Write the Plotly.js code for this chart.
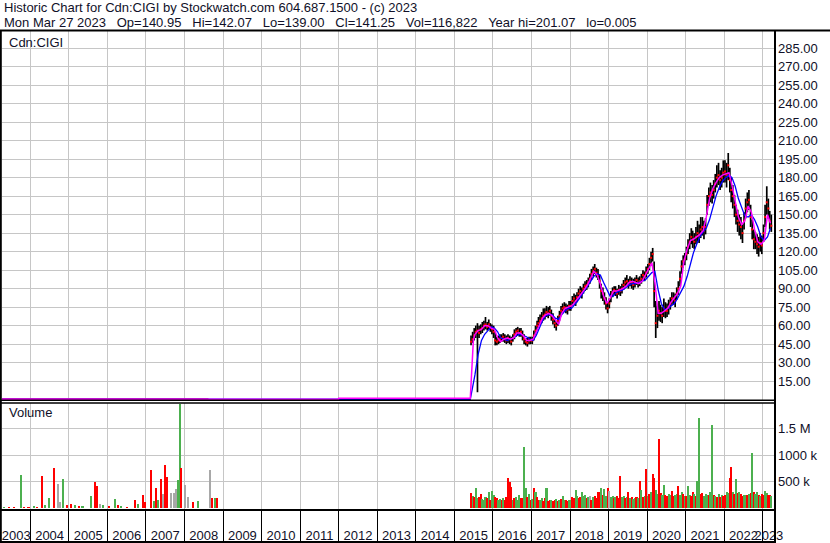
<!DOCTYPE html>
<html><head><meta charset="utf-8">
<script src="https://cdn.plot.ly/plotly-3.0.1.min.js"></script>
<style>html,body{margin:0;padding:0;background:#fff}#chart{width:830px;height:543px}</style>
</head><body><div id="chart"></div>
<script>
// ---------------- text ----------------
const header1 = 'Historic Chart for Cdn:CIGI by Stockwatch.com 604.687.1500 - (c) 2023';
const header2 = ['Mon Mar 27 2023', 'Op=140.95', 'Hi=142.07', 'Lo=139.00', 'Cl=141.25', 'Vol=116,822', 'Year hi=201.07', 'lo=0.005'];
const symbolLabel = 'Cdn:CIGI';
const volumeLabel = 'Volume';
const years = [2003,2004,2005,2006,2007,2008,2009,2010,2011,2012,2013,2014,2015,2016,2017,2018,2019,2020,2021,2022,2023];
const priceTicks = [15,30,45,60,75,90,105,120,135,150,165,180,195,210,225,240,255,270,285];
const volTicks = [500000, 1000000, 1500000];
const volTickText = ['500 k', '1000 k', '1.5 M'];
const xStart = '2003-04-08', xEnd = '2023-04-27';

// ---------------- price, half-month bars Jun 2015 .. Mar 2023 ----------------
const closeP = [
 47,49, 52,55, 56,54, 57,58, 60,61, 59,61, 59,57,
 55,48, 47,48, 49,50, 51,49, 48,50, 49,47, 50,53, 55,56, 54,55, 52,49, 47,46, 48,48,
 48,52, 56,60, 62,64, 66,68, 69,71, 70,72, 68,65, 62,60, 64,68, 72,74, 75,74, 73,76,
 76,80, 82,80, 83,86, 88,86, 90,92, 93,95, 98,102, 104,106, 103,101, 96,88, 86,82, 78,74,
 78,84, 87,89, 88,86, 89,88, 90,93, 95,96, 94,96, 95,93, 95,97, 95,96, 98,101, 100,103,
 106,110, 115,118, 88,62, 68,72, 70,68, 74,72, 72,75, 78,82, 82,80, 86,90, 98,108, 112,114,
 118,124, 128,132, 130,128, 132,135, 133,138, 140,137, 140,158, 165,168, 166,170, 175,180, 182,178, 180,184,
 185,182, 190,178, 170,165, 158,150, 145,142, 140,135, 145,155, 160,162, 148,138, 130,128, 126,124, 127,125,
 135,148, 160,155, 145,141];
const highP = [
 52,55, 58,60, 62,60, 61,63, 64,67, 63,65, 62,61,
 60,55, 51,52, 53,53, 54,53, 52,53, 52,51, 53,57, 58,59, 58,58, 56,53, 50,50, 51,51,
 51,56, 60,64, 67,69, 71,74, 74,76, 75,76, 73,70, 66,64, 68,72, 76,78, 79,78, 77,80,
 80,84, 86,85, 87,90, 92,91, 94,96, 97,99, 102,106, 108,110, 107,106, 101,94, 91,87, 83,79,
 82,88, 91,92, 92,90, 93,92, 94,97, 99,101, 98,100, 99,98, 99,101, 99,100, 102,105, 104,108,
 110,115, 120,123, 112,80, 76,80, 77,75, 82,79, 78,81, 83,87, 87,86, 91,96, 104,113, 117,119,
 124,130, 135,139, 137,135, 140,145, 142,148, 148,145, 147,166, 172,176, 174,178, 183,190, 192,186, 188,194,
 194,192, 200,188, 180,174, 166,158, 154,150, 148,142, 152,163, 168,170, 158,146, 138,136, 134,132, 135,133,
 142,158, 173,163, 153,150];
const lowP = [
 44,46, 48,50, 6,50, 53,54, 56,57, 56,57, 55,53,
 50,44, 44,45, 46,47, 47,46, 45,46, 45,44, 47,49, 51,52, 51,51, 48,45, 44,43, 45,45,
 45,48, 52,56, 58,60, 62,64, 65,67, 66,68, 64,61, 58,56, 60,64, 68,70, 71,70, 69,72,
 72,76, 78,76, 79,82, 84,82, 86,88, 89,91, 94,97, 100,102, 99,97, 90,82, 80,77, 73,70,
 74,79, 83,85, 84,82, 85,84, 86,89, 91,92, 90,92, 90,89, 91,93, 91,92, 94,97, 96,99,
 102,105, 110,112, 75,50, 58,64, 63,62, 67,66, 67,69, 73,77, 77,75, 81,85, 92,102, 107,109,
 113,118, 122,126, 123,122, 126,128, 127,131, 133,130, 134,150, 157,160, 159,163, 168,172, 174,170, 172,176,
 176,172, 178,168, 160,155, 148,142, 136,133, 130,127, 138,147, 152,154, 140,130, 122,122, 118,116, 120,118,
 128,140, 150,148, 138,136];

// early (pre-2015) price level
const earlyPriceDates = ['2003-04-08', '2008-08-15'];
const earlyPrice = [0.4, 0.4];

// ---------------- moving averages (monthly, mid-month from Jul 2015) ----------------
const maShortEarlyDates = ['2003-04-08', '2011-12-31', '2012-01-02', '2015-06-01', '2015-06-30'];
const maShortEarly = [0.3, 0.3, 1.2, 1.2, 48];
const maShort = [
 53,56,57,60,60,58,
 57,50,47,49,50,49,50,54,54,52,48,48,
 49,55,61,66,69,70,68,64,61,70,74,75,
 76,79,82,85,89,93,99,104,101,94,84,78,
 82,88,88,89,90,92,95,96,95,94,96,101,
 106,111,95,70,70,72,74,79,83,86,92,112,
 122,129,130,132,134,137,148,163,171,176,180,182,
 183,184,174,160,148,142,145,157,152,138,128,126,
 129,150,143];
const maLongEarlyDates = ['2003-04-08', '2015-06-01'];
const maLongEarly = [0.3, 0.3];
const maLong = [
 20,37,48,53,56,59,
 58,55,50,49,48,49,50,52,53,52,51,49,
 48,52,58,64,68,69,69,66,65,69,72,74,
 74,77,80,84,88,91,96,100,102,101,95,89,
 84,84,87,88,89,91,93,94,94,95,96,97,
 100,103,104,89,78,73,74,76,78,82,87,92,
 100,110,119,126,132,136,139,146,156,165,172,177,
 180,182,180,173,163,155,149,148,150,146,140,132,
 129,132,139];

// ---------------- volume (thousands), half-month Jun 2015 .. Mar 2023 ----------------
const volK = [
 280,220, 200,380, 180,210, 260,170, 150,200, 180,300, 160,330,
 250,210, 180,150, 170,160, 190,150, 200,560, 500,400, 150,180, 200,160, 250,180, 190,1145, 380,200, 260,150,
 170,370, 310,200, 150,160, 180,140, 190,370, 130,150, 160,130, 150,170, 140,160, 170,230, 150,160, 140,160,
 150,200, 180,340, 220,180, 200,310, 230,250, 180,200, 230,160, 200,220, 180,300, 310,380, 250,360, 220,370,
 330,200, 230,180, 200,220, 180,600, 200,230, 190,210, 310,180, 200,170, 190,210, 180,510, 340,200, 220,730,
 230,260, 300,640, 560,340, 260,1300, 280,250, 430,240, 220,260, 250,330, 220,240, 260,410, 240,300, 260,230,
 220,420, 250,220, 300,260, 230,510, 1690,260, 280,230, 260,240, 250,300, 1566,240, 220,200, 260,210, 250,230,
 240,310, 280,560, 780,300, 270,540, 280,300, 260,230, 240,250, 250,270, 280,1040, 310,260, 310,240, 230,260,
 250,330, 280,240, 250,220];
// g = up, r = down, n = unchanged
const volDir = 'rgrggrrgggrgrg' +
 'grrggrgrrrrrgrgggrrggrgr' + 'grgrrggrrgrrgrrgrgrggrrg' + 'grrggrrgggrgnrgrrrrgrggr' +
 'nggrgrrrggrgrgrggrgrgrgr' + 'grgrrggrrggrrggrrggrggrg' + 'rggrrgrggrrgggrggrgrgrgr' +
 'rggrrgrgrgrrggrgrgrggrgr' + 'rggrrg';

// early volume 2003 - 2008
const earlyVolDates = ['2003-05-01','2003-06-15','2003-08-01','2003-10-08','2003-11-01','2003-12-15','2004-02-01','2004-03-01','2004-04-22','2004-05-15',
 '2004-06-24','2004-08-15','2004-09-20','2004-10-05','2004-11-08','2004-12-15','2005-01-20','2005-03-01','2005-04-10','2005-05-10',
 '2005-07-30','2005-09-01','2005-09-20','2005-10-20','2005-11-20','2006-01-15','2006-03-10','2006-04-10','2006-05-10','2006-07-01',
 '2006-09-15','2006-10-15','2006-12-01','2006-12-20','2007-02-20','2007-03-20','2007-04-05','2007-04-25','2007-05-27','2007-06-10',
 '2007-07-03','2007-07-20','2007-08-25','2007-09-25','2007-10-10','2007-11-01','2007-11-20','2007-12-01','2008-01-05','2008-02-05',
 '2008-03-20','2008-05-10','2008-09-01','2008-09-20','2008-10-20','2008-11-05'];
const earlyVolK = [20,15,10,620,20,15,30,20,600,60,
 180,760,450,120,550,50,70,60,40,30,
 230,490,410,80,60,40,170,50,40,20,
 160,70,250,120,720,140,380,150,550,260,
 810,590,280,280,350,530,1960,760,430,200,
 120,140,720,180,180,180];
const earlyVolDir = 'grrgrrgrrggrnngrrgrgg' + 'rrngrgrgrrgrrrgrgrnrrnnnggrnnrgnrgr';

// ---------------- build ----------------
function halfMonthDates(y0, m0, y1, m1) {
  const out = []; let y = y0, m = m0;
  while (y < y1 || (y === y1 && m <= m1)) {
    const mm = String(m).padStart(2, '0');
    out.push(y + '-' + mm + '-08', y + '-' + mm + '-23');
    m++; if (m > 12) { m = 1; y++; }
  }
  return out;
}
function monthlyDates(y0, m0, y1, m1) {
  const out = []; let y = y0, m = m0;
  while (y < y1 || (y === y1 && m <= m1)) {
    out.push(y + '-' + String(m).padStart(2, '0') + '-15');
    m++; if (m > 12) { m = 1; y++; }
  }
  return out;
}
const barDates = halfMonthDates(2015, 6, 2023, 3);
const maDates = monthlyDates(2015, 7, 2023, 3);

const hlX = [], hlY = [];
barDates.forEach((d, i) => { hlX.push(d, d, null); hlY.push(lowP[i], highP[i], null); });

const colorOf = { g: '#4cb04f', r: '#ff0000', n: '#a8a8a8' };
const allVolX = earlyVolDates.concat(barDates);
const allVol = earlyVolK.concat(volK).map(v => v * 1000);
const allDir = (earlyVolDir + volDir).split('');
const volColors = allDir.map(c => colorOf[c]);

const t0 = Date.parse(xStart + 'T00:00:00Z'), t1 = Date.parse(xEnd + 'T00:00:00Z');
const yearStarts = years.slice(1).map(y => y + '-01-01');
const yearMids = years.map(y => {
  const a = Math.max(Date.UTC(y, 0, 1), t0), b = Math.min(Date.UTC(y + 1, 0, 1), t1);
  return (a + b) / 2;
});

const FONT = 'Liberation Sans, Arial, sans-serif';
const TXT = '#101028';
const GRID = '#c6c6c6';

const traces = [
  { type: 'scatter', mode: 'lines', x: earlyPriceDates, y: earlyPrice, line: { color: '#ff0000', width: 2 }, xaxis: 'x', yaxis: 'y', hoverinfo: 'skip' },
  { type: 'scatter', mode: 'lines', x: hlX, y: hlY, line: { color: '#000000', width: 1.7 }, connectgaps: false, xaxis: 'x', yaxis: 'y', hoverinfo: 'skip' },
  { type: 'scatter', mode: 'markers', x: barDates, y: closeP, marker: { color: '#ff0000', size: 2, symbol: 'square', line: { width: 0 } }, xaxis: 'x', yaxis: 'y', hoverinfo: 'skip' },
  { type: 'scatter', mode: 'lines', x: maLongEarlyDates.concat(maDates), y: maLongEarly.concat(maLong), line: { color: '#0000ff', width: 1.3 }, xaxis: 'x', yaxis: 'y', hoverinfo: 'skip' },
  { type: 'scatter', mode: 'lines', x: maShortEarlyDates.concat(maDates), y: maShortEarly.concat(maShort), line: { color: '#ff00ff', width: 1.5 }, xaxis: 'x', yaxis: 'y', hoverinfo: 'skip' },
  { type: 'bar', x: allVolX, y: allVol, width: 1.7e9, marker: { color: volColors, line: { width: 0 } }, xaxis: 'x2', yaxis: 'y2', hoverinfo: 'skip' },
  // carrier for the year strip axis (draws nothing)
  { type: 'scatter', mode: 'none', x: [xStart], y: [0.5], xaxis: 'x3', yaxis: 'y3', hoverinfo: 'skip' }
];

const W = 830, H = 543;
const px = v => v / W, py = v => 1 - v / H;
const xDom = [px(2), px(775)];

const layout = {
  width: W, height: H, autosize: false,
  margin: { l: 0, r: 0, t: 0, b: 0, pad: 0 },
  paper_bgcolor: '#ffffff', plot_bgcolor: '#ffffff',
  showlegend: false, hovermode: false, bargap: 0,
  font: { family: FONT, size: 13, color: TXT },
  xaxis: { domain: xDom, anchor: 'y', type: 'date', range: [xStart, xEnd], tickmode: 'array', tickvals: yearStarts,
           showticklabels: false, ticks: '', showgrid: true, gridcolor: GRID, gridwidth: 1, zeroline: false, showline: false },
  xaxis2: { domain: xDom, anchor: 'y2', type: 'date', range: [xStart, xEnd], matches: 'x', tickmode: 'array', tickvals: yearStarts,
            showticklabels: false, ticks: '', showgrid: true, gridcolor: GRID, gridwidth: 1, zeroline: false, showline: false },
  xaxis3: { domain: xDom, anchor: 'y3', type: 'date', range: [xStart, xEnd], tickmode: 'array', tickvals: yearMids, ticktext: years.map(String),
            ticks: '', tickangle: 0, ticklabelposition: 'inside', ticklabeloverflow: 'allow', ticklabelstandoff: -3, showgrid: false, zeroline: false, showline: false,
            tickfont: { family: FONT, size: 13, color: TXT },
            minor: { tickmode: 'array', tickvals: yearStarts, showgrid: true, gridcolor: '#000000', gridwidth: 1, ticks: '' } },
  yaxis: { domain: [py(400), py(31)], anchor: 'x', side: 'right', range: [-0.3, 298.9], tickmode: 'array', tickvals: priceTicks,
           tickformat: '.2f', ticks: '', showgrid: true, gridcolor: GRID, gridwidth: 1, zeroline: false, showline: false,
           tickfont: { family: FONT, size: 13, color: TXT }, ticklabelstandoff: 2 },
  yaxis2: { domain: [py(510), py(403)], anchor: 'x2', side: 'right', range: [-37700, 1981000], tickmode: 'array', tickvals: volTicks,
            ticktext: volTickText, ticks: '', showgrid: true, gridcolor: GRID, gridwidth: 1, zeroline: false, showline: false,
            tickfont: { family: FONT, size: 13, color: TXT }, ticklabelstandoff: 2 },
  yaxis3: { domain: [0, py(510)], anchor: 'x3', range: [0, 1], showticklabels: false, ticks: '', showgrid: false, zeroline: false, showline: false },
  annotations: [
    { xref: 'paper', yref: 'paper', x: px(2), y: py(8), xanchor: 'left', yanchor: 'middle', text: header1, showarrow: false,
      font: { family: FONT, size: 13, color: TXT } },
    { xref: 'paper', yref: 'paper', x: px(2), y: py(22), xanchor: 'left', yanchor: 'middle', text: header2.join('&nbsp;&nbsp; '), showarrow: false,
      font: { family: FONT, size: 13, color: TXT } },
    { xref: 'paper', yref: 'paper', x: px(7), y: py(42), xanchor: 'left', yanchor: 'middle', text: symbolLabel, showarrow: false,
      font: { family: FONT, size: 13, color: TXT } },
    { xref: 'paper', yref: 'paper', x: px(7), y: py(413), xanchor: 'left', yanchor: 'middle', text: volumeLabel, showarrow: false,
      font: { family: FONT, size: 13, color: TXT } }
  ],
  shapes: [
    { type: 'line', xref: 'paper', yref: 'paper', x0: 0, x1: 1, y0: py(30.5), y1: py(30.5), line: { color: '#000', width: 2 } },
    { type: 'line', xref: 'paper', yref: 'paper', x0: px(0.8), x1: px(0.8), y0: 0, y1: py(30.5), line: { color: '#000', width: 2 } },
    { type: 'line', xref: 'paper', yref: 'paper', x0: px(775), x1: px(775), y0: 0, y1: py(30.5), line: { color: '#000', width: 2 } },
    { type: 'line', xref: 'paper', yref: 'paper', x0: 0, x1: px(775), y0: py(400.3), y1: py(400.3), line: { color: '#000', width: 1.5 } },
    { type: 'line', xref: 'paper', yref: 'paper', x0: 0, x1: px(775), y0: py(403), y1: py(403), line: { color: '#000', width: 1.5 } },
    { type: 'line', xref: 'paper', yref: 'paper', x0: 0, x1: px(775), y0: py(510), y1: py(510), line: { color: '#000', width: 2 } },
    { type: 'line', xref: 'paper', yref: 'paper', x0: 0, x1: px(775), y0: py(542), y1: py(542), line: { color: '#000', width: 2 } }
  ]
};

Plotly.newPlot('chart', traces, layout, { staticPlot: true, displayModeBar: false });
</script>
</body></html>
